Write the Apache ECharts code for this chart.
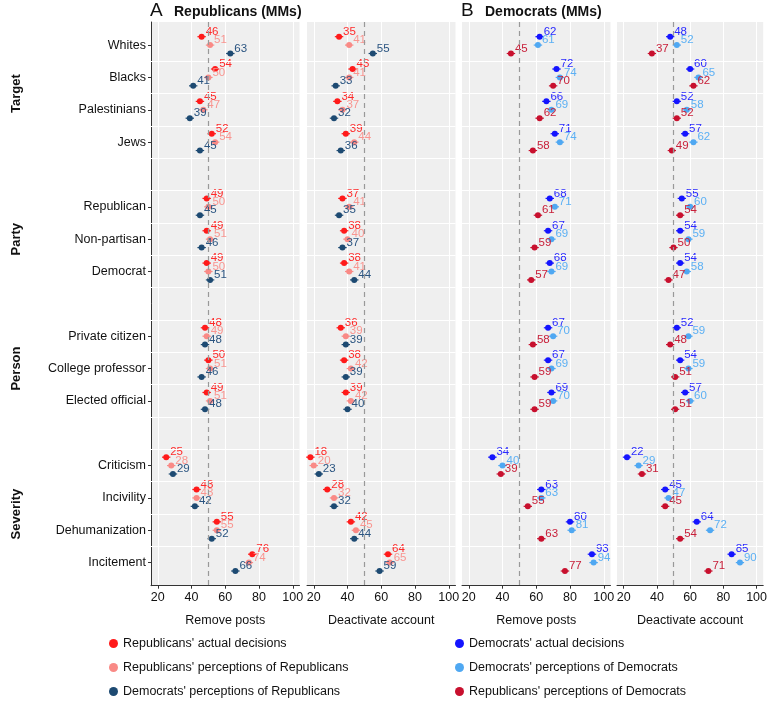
<!DOCTYPE html>
<html><head><meta charset="utf-8">
<script src="https://cdn.jsdelivr.net/npm/echarts@6/dist/echarts.min.js"></script>
<style>html,body{margin:0;padding:0;background:#fff}#c{width:770px;height:707px}</style>
</head><body><div id="c"></div>
<script>
// ---------------- data ----------------
const groupNames = ['Target', 'Party', 'Person', 'Severity'];
const categories = ['Whites', 'Blacks', 'Palestinians', 'Jews',
  'Republican', 'Non-partisan', 'Democrat',
  'Private citizen', 'College professor', 'Elected official',
  'Criticism', 'Incivility', 'Dehumanization', 'Incitement'];
const categoryGroup = [0, 0, 0, 0, 1, 1, 1, 2, 2, 2, 3, 3, 3, 3];
const xTickValues = [20, 40, 60, 80, 100];
const panelTitles = ['Republicans (MMs)', 'Democrats (MMs)'];
const panelLetters = ['A', 'B'];
const axisNames = ['Remove posts', 'Deactivate account', 'Remove posts', 'Deactivate account'];
const legendNames = ["Republicans' actual decisions", "Republicans' perceptions of Republicans", "Democrats' perceptions of Republicans",
  "Democrats' actual decisions", "Democrats' perceptions of Democrats", "Republicans' perceptions of Democrats"];

// Panel A - Remove posts
const repActualRemove   = [46, 54, 45, 52, 49, 49, 49, 48, 50, 49, 25, 43, 55, 76];
const repPercRepRemove  = [51, 50, 47, 54, 50, 51, 50, 49, 51, 51, 28, 43, 55, 74];
const demPercRepRemove  = [63, 41, 39, 45, 45, 46, 51, 48, 46, 48, 29, 42, 52, 66];
// Panel A - Deactivate account
const repActualDeact    = [35, 43, 34, 39, 37, 38, 38, 36, 38, 39, 18, 28, 42, 64];
const repPercRepDeact   = [41, 41, 37, 44, 41, 40, 41, 39, 42, 42, 20, 32, 45, 65];
const demPercRepDeact   = [55, 33, 32, 36, 35, 37, 44, 39, 39, 40, 23, 32, 44, 59];
// Panel B - Remove posts
const demActualRemove   = [62, 72, 66, 71, 68, 67, 68, 67, 67, 69, 34, 63, 80, 93];
const demPercDemRemove  = [61, 74, 69, 74, 71, 69, 69, 70, 69, 70, 40, 63, 81, 94];
const repPercDemRemove  = [45, 70, 62, 58, 61, 59, 57, 58, 59, 59, 39, 55, 63, 77];
// Panel B - Deactivate account
const demActualDeact    = [48, 60, 52, 57, 55, 54, 54, 52, 54, 57, 22, 45, 64, 85];
const demPercDemDeact   = [52, 65, 58, 62, 60, 59, 58, 59, 59, 60, 29, 47, 72, 90];
const repPercDemDeact   = [37, 62, 52, 49, 54, 50, 47, 48, 51, 51, 31, 45, 54, 71];

const ciHalfWidth = 2.5;   // approximate half-width of the interval bars
const referenceValue = 50;

// ---------------- layout / style ----------------
const FONT = '"Liberation Sans", Arial, Helvetica, sans-serif';
const colors = ['#ff1a1a', '#f98a86', '#1d4a72', '#1414ff', '#4fa8f2', '#c8102e'];
const labelColors = ['#ff2a2a', '#f99590', '#2a5480', '#2a2aff', '#5cb0f4', '#c8203a'];
const panelLeft = [151, 307, 462, 617];
const panelWidth = 148.5;
const gridTop = 22, gridHeight = 563.7;
const yMin = -0.714, yMax = 16.714;
const offsets = [-0.26, 0, 0.26];

const rows = categories.map((c, i) => i + categoryGroup[i]);
const rowName = {};
rows.forEach((r, i) => rowName[r] = categories[i]);
const nRows = rows[rows.length - 1];

const panelData = [
  [repActualRemove, repPercRepRemove, demPercRepRemove],
  [repActualDeact, repPercRepDeact, demPercRepDeact],
  [demActualRemove, demPercDemRemove, repPercDemRemove],
  [demActualDeact, demPercDemDeact, repPercDemDeact]
];

const grids = [], xAxes = [], yAxes = [], series = [];
panelData.forEach((sets, p) => {
  grids.push({left: panelLeft[p], top: gridTop, width: panelWidth, height: gridHeight,
    show: true, backgroundColor: '#efefef', borderWidth: 0, containLabel: false});
  xAxes.push({
    type: 'value', gridIndex: p, min: 16, max: 104,
    name: axisNames[p], nameLocation: 'middle', nameGap: 28,
    nameTextStyle: {fontSize: 12.5, color: '#111', fontFamily: FONT},
    axisLine: {show: true, onZero: false, lineStyle: {color: '#333', width: 1}},
    axisTick: {show: true, customValues: xTickValues, length: 3, lineStyle: {color: '#333'}},
    axisLabel: {customValues: xTickValues, fontSize: 12.5, color: '#111', margin: 5, fontFamily: FONT},
    splitLine: {show: true, lineStyle: {color: '#ffffff', width: 1}}
  });
  yAxes.push({
    type: 'value', gridIndex: p, inverse: true, min: yMin, max: yMax,
    axisLine: {show: p === 0, onZero: false, lineStyle: {color: '#333', width: 1}},
    axisTick: {show: p === 0, customValues: rows, length: 3, lineStyle: {color: '#333'}},
    axisLabel: {show: p === 0, customValues: rows, fontSize: 12.5, color: '#111', margin: 5, fontFamily: FONT,
      formatter: v => rowName[Math.round(v)] || ''},
    splitLine: {show: false}
  });
  // background lines: mid-row gridlines + reference dashed line
  const mid = [];
  for (let k = 0; k < nRows; k++) mid.push({yAxis: k + 0.5, lineStyle: {color: '#ffffff', width: 1, type: 'solid'}});
  mid.push({xAxis: referenceValue, lineStyle: {color: '#999999', width: 1.2, type: [5, 4]}});
  series.push({
    type: 'scatter', xAxisIndex: p, yAxisIndex: p, data: [], silent: true, z: 1,
    markLine: {silent: true, symbol: 'none', label: {show: false}, animation: false, data: mid}
  });
  sets.forEach((vals, s) => {
    const ci = (p < 2 ? 0 : 3) + s;
    const pts = vals.map((v, i) => [v, rows[i] + offsets[s]]);
    series.push({
      type: 'custom', xAxisIndex: p, yAxisIndex: p, z: 3, silent: true,
      data: pts,
      renderItem: (params, api) => {
        const x = api.value(0), y = api.value(1);
        const a = api.coord([x - ciHalfWidth, y]);
        const b = api.coord([x + ciHalfWidth, y]);
        return {type: 'line', shape: {x1: a[0], y1: a[1], x2: b[0], y2: b[1]},
          style: {stroke: colors[ci], lineWidth: 1.2}};
      }
    });
    series.push({
      name: legendNames[ci], type: 'scatter', xAxisIndex: p, yAxisIndex: p, z: 4,
      data: pts, symbol: 'circle', symbolSize: 6,
      itemStyle: {color: colors[ci], opacity: 1},
      label: {show: true, position: 'right', distance: 1, offset: [0, -5],
        formatter: prm => prm.value[0], color: labelColors[ci], fontSize: 11.5, fontFamily: FONT},
      emphasis: {disabled: true}
    });
  });
});

// group labels
function rowPixel(r) { return gridTop + (r - yMin) / (yMax - yMin) * gridHeight; }
const graphics = [];
groupNames.forEach((g, gi) => {
  const rs = rows.filter((r, i) => categoryGroup[i] === gi);
  const yc = rowPixel((rs[0] + rs[rs.length - 1]) / 2);
  graphics.push({type: 'text', x: 16, y: yc, rotation: Math.PI / 2,
    style: {text: g, font: 'bold 13px ' + FONT, fill: '#111', align: 'center', verticalAlign: 'middle'}});
});
// panel titles
panelLetters.forEach((L, i) => {
  const x0 = panelLeft[i * 2];
  graphics.push({type: 'text', x: x0 - 1, y: 11,
    style: {text: L, font: '19px ' + FONT, fill: '#111', verticalAlign: 'middle'}});
  graphics.push({type: 'text', x: x0 + 23, y: 12,
    style: {text: panelTitles[i], font: 'bold 14px ' + FONT, fill: '#111', verticalAlign: 'middle'}});
});

const chart = echarts.init(document.getElementById('c'), null, {renderer: 'canvas'});
chart.setOption({
  animation: false,
  textStyle: {fontFamily: FONT},
  grid: grids, xAxis: xAxes, yAxis: yAxes, series: series,
  graphic: graphics,
  legend: [
    {data: legendNames.slice(0, 3), orient: 'vertical', left: 104, top: 632, itemGap: 11,
      icon: 'circle', itemWidth: 9, itemHeight: 9, textStyle: {fontSize: 12.5, color: '#111'}, selectedMode: false},
    {data: legendNames.slice(3), orient: 'vertical', left: 450, top: 632, itemGap: 11,
      icon: 'circle', itemWidth: 9, itemHeight: 9, textStyle: {fontSize: 12.5, color: '#111'}, selectedMode: false}
  ]
});
</script></body></html>
